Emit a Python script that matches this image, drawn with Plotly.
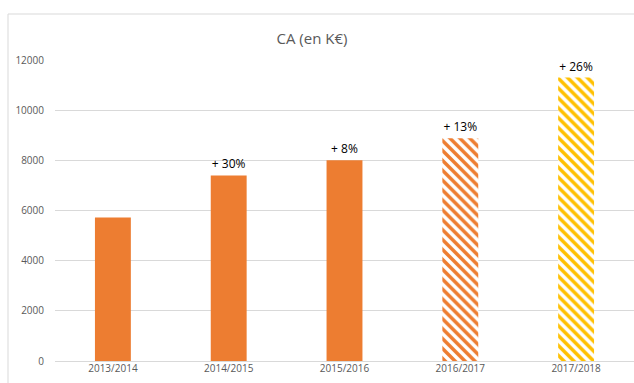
import plotly.graph_objects as go

categories = ["2013/2014", "2014/2015", "2015/2016", "2016/2017", "2017/2018"]
values = [5720, 7400, 8000, 8880, 11300]
labels = ["", "+ 30%", "+ 8%", "+ 13%", "+ 26%"]
bar_colors = ["#ED7D31", "#ED7D31", "#ED7D31", "#ED7D31", "#FFC000"]
is_forecast = [False, False, False, True, True]
y_ticks = [0, 2000, 4000, 6000, 8000, 10000, 12000]

W, H = 634, 383
L, R, T, B = 55, 0, 60, 22

fig = go.Figure()

solid_idx = [i for i, f in enumerate(is_forecast) if not f]
fig.add_trace(go.Bar(
    x=[categories[i] for i in solid_idx],
    y=[values[i] for i in solid_idx],
    text=[labels[i] for i in solid_idx],
    textposition="outside",
    textfont=dict(color="#000000", size=12, family="Open Sans"),
    cliponaxis=False,
    width=0.31,
    marker=dict(color=[bar_colors[i] for i in solid_idx], line=dict(width=0)),
))

for i, f in enumerate(is_forecast):
    if not f:
        continue
    fig.add_trace(go.Bar(
        x=[categories[i]],
        y=[values[i]],
        text=[labels[i]],
        textposition="outside",
        textfont=dict(color="#000000", size=12, family="Open Sans"),
        cliponaxis=False,
        width=0.31,
        marker=dict(
            color="white",
            line=dict(width=0),
            pattern=dict(
                shape="\\",
                fgcolor=bar_colors[i],
                fgopacity=1,
                bgcolor="white",
                size=7,
                solidity=0.5,
                fillmode="overlay",
            ),
        ),
    ))

pw = W - L - R
ph = H - T - B
def px_to_paper_x(px):
    return (px - L) / pw
def px_to_paper_y(py):
    return (H - B - py) / ph

fig.add_shape(
    type="rect", xref="paper", yref="paper",
    x0=px_to_paper_x(8), x1=px_to_paper_x(W + 20),
    y0=px_to_paper_y(H + 20), y1=px_to_paper_y(14),
    line=dict(color="#D9D9D9", width=1), fillcolor="rgba(0,0,0,0)", layer="below",
)

fig.update_layout(
    width=W, height=H,
    margin=dict(l=L, r=R, t=T, b=B, pad=0),
    paper_bgcolor="white",
    plot_bgcolor="white",
    showlegend=False,
    barmode="overlay",
    font=dict(family="Open Sans", color="#595959", size=10),
    title=dict(
        text="CA (en K€)",
        x=312 / W, xanchor="center",
        y=1 - 39 / H, yanchor="middle",
        font=dict(size=15, color="#595959", family="Open Sans"),
    ),
    xaxis=dict(
        type="category",
        categoryorder="array",
        categoryarray=categories,
        range=[-0.5, 4.5],
        showgrid=False,
        showline=False,
        ticks="",
        tickfont=dict(size=10, color="#595959"),
        fixedrange=True,
    ),
    yaxis=dict(
        range=[0, 12000],
        tickvals=y_ticks,
        ticktext=[str(v) for v in y_ticks],
        showgrid=True,
        gridcolor="#D9D9D9",
        gridwidth=1,
        zeroline=True,
        zerolinecolor="#D9D9D9",
        zerolinewidth=1,
        showline=False,
        ticks="",
        ticklabelstandoff=10,
        tickfont=dict(size=10, color="#595959"),
        fixedrange=True,
    ),
)

fig.write_html("out.html")
